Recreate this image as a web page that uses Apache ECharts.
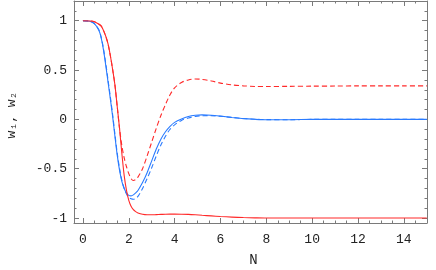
<!DOCTYPE html>
<html>
<head>
<meta charset="utf-8">
<script src="https://cdn.jsdelivr.net/npm/echarts@6/dist/echarts.min.js"></script>
<style>
html,body{margin:0;padding:0;background:#fff;}
#c{width:436px;height:270px;}
</style>
</head>
<body>
<div id="c"></div>
<script>
// Sample positions (N)
var nValues = [0,0.3,0.5,0.7,0.8,0.9,1.0,1.1,1.2,1.3,1.4,1.5,1.6,1.7,1.8,1.9,2.0,2.1,2.2,2.3,2.4,2.6,2.8,3.0,3.2,3.4,3.6,3.8,4.0,4.3,4.6,4.9,5.2,5.6,6.0,6.5,7.0,7.5,8.0,9,10,11,12,13,14,15];
// Blue solid
var blueSolid = [1,0.995,0.97,0.9,0.82,0.7,0.54,0.37,0.2,0.02,-0.18,-0.37,-0.52,-0.63,-0.7,-0.745,-0.77,-0.775,-0.765,-0.745,-0.72,-0.64,-0.54,-0.42,-0.3,-0.2,-0.125,-0.07,-0.03,0.005,0.03,0.042,0.046,0.042,0.033,0.02,0.008,0.001,-0.003,-0.003,0,0,0,0,0,0];
// Blue dashed
var blueDashed = [1,0.995,0.97,0.905,0.83,0.71,0.56,0.39,0.22,0.04,-0.16,-0.35,-0.5,-0.62,-0.7,-0.755,-0.79,-0.805,-0.81,-0.8,-0.78,-0.7,-0.6,-0.49,-0.37,-0.26,-0.17,-0.1,-0.055,-0.01,0.015,0.03,0.037,0.038,0.032,0.02,0.009,0.002,-0.002,-0.003,0,0,0,0,0,0];
// Red solid
var redSolid = [1,0.998,0.99,0.965,0.945,0.9,0.84,0.76,0.64,0.5,0.34,0.12,-0.1,-0.35,-0.57,-0.72,-0.82,-0.88,-0.915,-0.935,-0.948,-0.962,-0.967,-0.967,-0.965,-0.963,-0.961,-0.96,-0.96,-0.961,-0.963,-0.967,-0.972,-0.978,-0.984,-0.99,-0.995,-0.998,-1,-1,-1,-1,-1,-1,-1,-1];
// Red dashed
var redDashed = [1,0.998,0.99,0.965,0.945,0.9,0.84,0.76,0.64,0.5,0.34,0.12,-0.1,-0.27,-0.39,-0.48,-0.55,-0.6,-0.62,-0.61,-0.585,-0.5,-0.37,-0.23,-0.09,0.04,0.15,0.25,0.32,0.375,0.4,0.41,0.405,0.39,0.368,0.35,0.34,0.334,0.333,0.335,0.337,0.338,0.34,0.34,0.34,0.34];

var xMajor = [0,2,4,6,8,10,12,14];
var xMinor = [0.5,1,1.5,2.5,3,3.5,4.5,5,5.5,6.5,7,7.5,8.5,9,9.5,10.5,11,11.5,12.5,13,13.5,14.5,15];
var yMajor = [-1,-0.5,0,0.5,1];
var yMinor = [-0.9,-0.8,-0.7,-0.6,-0.4,-0.3,-0.2,-0.1,0.1,0.2,0.3,0.4,0.6,0.7,0.8,0.9,1.1];

function pairs(ys){ return nValues.map(function(x,i){ return [x, ys[i]]; }); }

var FONT = 'Liberation Mono';
var FRAME = '#7a7a7a';
var XMIN = -0.39, XMAX = 15.01, YMIN = -1.05, YMAX = 1.2;

function xAx(pos, vals, len, showLabel, showLine, name){
  return {
    type:'value', position:pos, min:XMIN, max:XMAX,
    name: name || '', nameLocation:'middle', nameGap:30,
    nameTextStyle:{fontFamily:FONT, fontSize:14, color:'#222', padding:[0,0,0,6]},
    axisLine:{show:showLine, onZero:false, lineStyle:{color:FRAME, width:1}},
    axisTick:{show:true, inside:true, length:len, customValues:vals, lineStyle:{color:FRAME, width:1}},
    axisLabel:{show:showLabel, customValues:vals, margin:10, fontFamily:FONT, fontSize:13, color:'#222'},
    splitLine:{show:false}
  };
}
function yAx(pos, vals, len, showLabel, showLine, name){
  return {
    type:'value', position:pos, min:YMIN, max:YMAX,
    name: name || '', nameLocation:'middle', nameGap:56, nameRotate:90,
    nameTextStyle:{fontFamily:FONT, fontSize:13, color:'#222', padding:[0,6,0,0]},
    axisLine:{show:showLine, onZero:false, lineStyle:{color:FRAME, width:1}},
    axisTick:{show:true, inside:true, length:len, customValues:vals, lineStyle:{color:FRAME, width:1}},
    axisLabel:{show:showLabel, customValues:vals, margin:7, fontFamily:FONT, fontSize:13, color:'#222'},
    splitLine:{show:false}
  };
}

var chart = echarts.init(document.getElementById('c'), null, {renderer:'canvas'});
chart.setOption({
  animation:false,
  backgroundColor:'#fff',
  grid:{left:74, right:9, top:1, bottom:47, containLabel:false, outerBoundsMode:'none'},
  xAxis:[
    xAx('bottom', xMajor, 5, true, true, 'N'),
    xAx('bottom', xMinor, 2.5, false, false),
    xAx('top', xMajor, 5, false, true),
    xAx('top', xMinor, 2.5, false, false)
  ],
  yAxis:[
    yAx('left', yMajor, 5, true, true, 'w\u2081, w\u2082'),
    yAx('left', yMinor, 2.5, false, false),
    yAx('right', yMajor, 5, false, true),
    yAx('right', yMinor, 2.5, false, false)
  ],
  series:[
    {type:'line', data:pairs(redDashed), smooth:0.3, showSymbol:false, lineStyle:{color:'#ff2a2a', width:1.1, type:[5,3]}},
    {type:'line', data:pairs(blueDashed), smooth:0.3, showSymbol:false, lineStyle:{color:'#2a7bff', width:1.1, type:[5,3]}},
    {type:'line', data:pairs(blueSolid), smooth:0.3, showSymbol:false, lineStyle:{color:'#2a7bff', width:1.1}},
    {type:'line', data:pairs(redSolid), smooth:0.3, showSymbol:false, lineStyle:{color:'#ff2a2a', width:1.1}}
  ]
});
</script>
</body>
</html>
